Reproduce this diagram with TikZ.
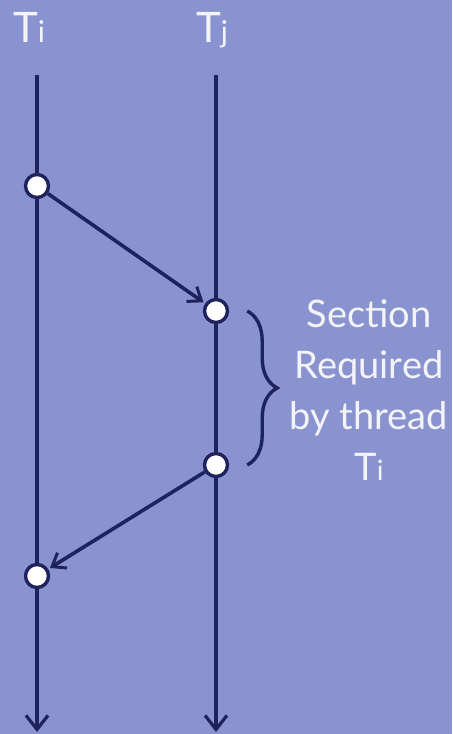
\documentclass[tikz,border=0pt]{standalone}
\usepackage{fontspec}
\setmainfont{Lato}
\usepackage{tikz}
\usetikzlibrary{arrows.meta, positioning, decorations.pathreplacing}
\definecolor{lanebg}{HTML}{8893CF}
\definecolor{laneink}{HTML}{1E235E}
\definecolor{lanetext}{HTML}{F4F4F8}

\begin{document}
\begin{tikzpicture}[x=0.5pt, y=-0.5pt,
        thread/.style={-{Straight Barb[length=7pt, width=11pt, line width=1.6pt]}, line width=2.2pt, laneink},
        event/.style={circle, draw=laneink, fill=white, line width=1.7pt, minimum size=11.5pt, inner sep=0pt},
        signal/.style={-{Straight Barb[length=6pt, width=9pt, line width=1.5pt]}, line width=1.8pt, laneink, shorten >=1pt},
        threadname/.style={text=lanetext, anchor=base, inner sep=0pt, font=\fontsize{21}{24}\selectfont},
        note/.style={text=lanetext, align=center, font=\fontsize{19}{25.5}\selectfont},
        brace/.style={decorate, decoration={brace, amplitude=15pt, aspect=0.5}, line width=1.7pt, laneink}
    ]
    \fill[lanebg] (0,0) rectangle (452,734);
    \useasboundingbox (0,0) rectangle (452,734);

    % threads
    \node (ti) [threadname] at (29,42) {T{\fontsize{15}{18}\selectfont i}};
    \node (tj) [threadname] at (212,42) {T{\fontsize{15}{18}\selectfont j}};
    \coordinate (tiTop) at (37,75);
    \coordinate (tiEnd) at (37,732);
    \coordinate (tjTop) at (216,75);
    \coordinate (tjEnd) at (216,732);
    \draw [thread] (tiTop) -- (tiEnd);
    \draw [thread] (tjTop) -- (tjEnd);

    % events
    \node (send) [event] at (37,186) {};
    \node (enter) [event] at (216,311) {};
    \node (leave) [event] at (216,465) {};
    \node (back) [event] at (37,576) {};

    \draw [signal] (send) -- (enter);
    \draw [signal] (leave) -- (back);

    % critical section
    \coordinate [right=9pt of enter] (braceTop);
    \coordinate [right=9pt of leave] (braceBot);
    \draw [brace] (braceTop) -- (braceBot);
    \node (section) [note] at (369,390) {Section\\Required\\by thread\\T{\fontsize{14}{16}\selectfont i}};
\end{tikzpicture}
\end{document}
